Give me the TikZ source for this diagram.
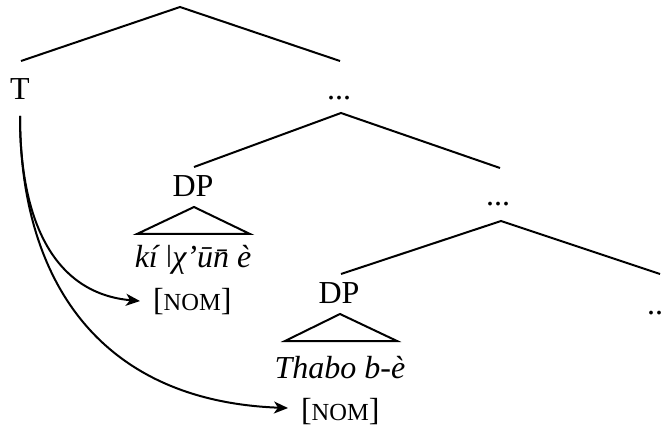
\documentclass[tikz,border=0pt]{standalone}
\usepackage{fontspec}
\setmainfont{Liberation Serif}
\usetikzlibrary{arrows.meta}
% caps set smaller, standing in for small capitals
\newcommand\smallcapsnom[1]{{\fontsize{24.5}{29}\selectfont #1}}
\begin{document}
\begin{tikzpicture}[x=1pt, y=-1pt, line width=2pt,
  lbl/.style={inner sep=0pt, anchor=base, font=\fontsize{32}{38}\selectfont},
  word/.style={lbl, font=\fontsize{32}{38}\selectfont\itshape},
  feat/.style={lbl, anchor=base west, inner xsep=12pt},
  branch/.style={line width=2pt},
  agree/.style={line width=2pt, -{Stealth[length=14pt, width=12pt, inset=4pt]}}]
\useasboundingbox (0,0) rectangle (663,427);

% labels
\node[lbl] (T) at (20,100) {T};
\node[lbl] (dotsA) at (339,100) {...};
\node[lbl] (dpA) at (193,197) {DP};
\node[word] (wA) at (193,268) {kí {\upshape ǀ}χ’\=u\=n è};
\node[feat] (nomA) at (140,310) {[\smallcapsnom{NOM}]};
\node[lbl] (dotsB) at (498,206) {...};
\node[lbl] (dpB) at (339,303) {DP};
\node[word] (wB) at (340,378) {Thabo b-è};
\node[feat] (nomB) at (288,420) {[\smallcapsnom{NOM}]};
\node[lbl] (dotsC) at (659,314) {...};

% branching points and branch ends
\coordinate (rootA) at (180,7);
\coordinate (rootAl) at (21,61);
\coordinate (rootAr) at (340,61);
\coordinate (rootB) at (341,113);
\coordinate (rootBl) at (194,167);
\coordinate (rootBr) at (500,168);
\coordinate (rootC) at (501,221);
\coordinate (rootCl) at (341,274);
\coordinate (rootCr) at (660,274);

\draw[branch] (rootAl) -- (rootA) -- (rootAr);
\draw[branch] (rootBl) -- (rootB) -- (rootBr);
\draw[branch] (rootCl) -- (rootC) -- (rootCr);

% roof triangles over the DPs
\coordinate (triAtop) at (194,207);
\coordinate (triAl) at (137,234);
\coordinate (triAr) at (250,234);
\coordinate (triBtop) at (340,314);
\coordinate (triBl) at (285,341);
\coordinate (triBr) at (397,341);
\draw[branch] (triAtop) -- (triAr) -- (triAl) -- cycle;
\draw[branch] (triBtop) -- (triBr) -- (triBl) -- cycle;

% agreement arrows from T
\coordinate (Tfoot) at ([yshift=-15pt]T.south);
\draw[agree] (Tfoot) .. controls +(0,115) and +(-80,-7) .. (nomA.west);
\draw[agree] (Tfoot) .. controls +(0,165) and +(-188,-7) .. ([yshift=3pt]nomB.west);
\end{tikzpicture}
\end{document}
